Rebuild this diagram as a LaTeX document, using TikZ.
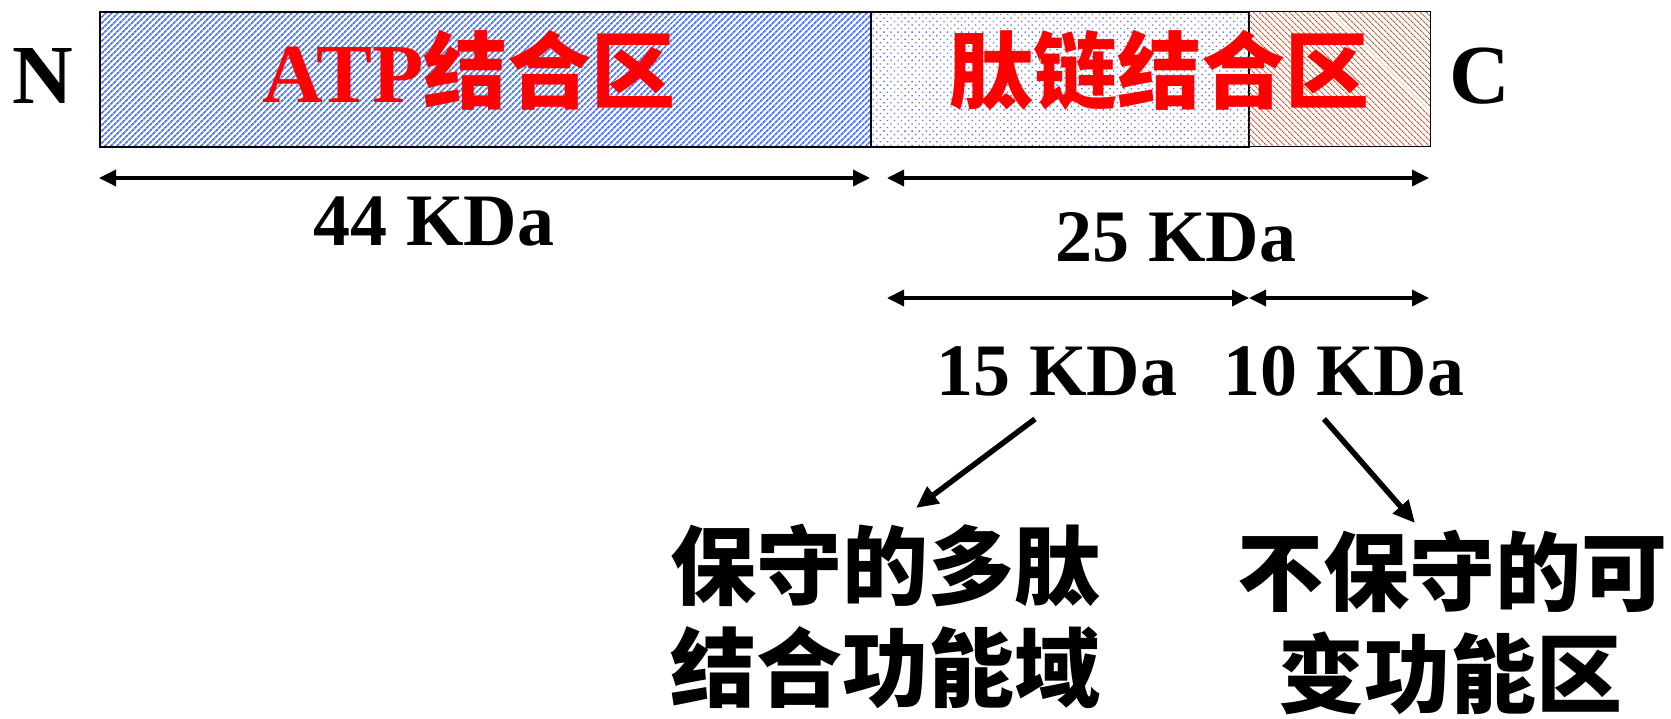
\documentclass[tikz,border=0pt]{standalone}
\usepackage{fontspec}
\setmainfont{Liberation Serif}
\newfontfamily\cjk{Noto Sans CJK SC}
\usetikzlibrary{patterns.meta,arrows.meta}
\definecolor{atpblue}{RGB}{80,120,255}
\definecolor{dotblue}{RGB}{95,115,235}
\definecolor{brn}{RGB}{190,95,55}
\definecolor{rd}{RGB}{255,0,0}
\begin{document}
\begin{tikzpicture}[x=1pt,y=-1pt,
  seg/.style={draw=black, line width=1.5pt, inner sep=0pt, anchor=north west, minimum height=135pt},
  dim/.style={line width=3.5pt, {Triangle[length=17pt,width=16pt]}-{Triangle[length=17pt,width=16pt]}},
  ptr/.style={line width=5.5pt, -{Triangle[length=22pt,width=20pt]}},
  term/.style={font=\fontsize{84}{84}\selectfont\bfseries, inner sep=0pt, anchor=base},
  redlbl/.style={font=\fontsize{84}{84}\selectfont\bfseries, text=rd, inner sep=0pt, anchor=base},
  kda/.style={font=\fontsize{74}{74}\selectfont\bfseries, inner sep=0pt, anchor=base},
  cjklbl/.style={font=\fontsize{86}{86}\selectfont\cjk\bfseries, inner sep=0pt, anchor=center}
]
\useasboundingbox (0,0) rectangle (1671,718);
\fill[white] (0,0) rectangle (1671,718);
% bar segments
\node[seg, minimum width=771pt, pattern={Lines[angle=45,distance=4pt,line width=1.8pt]}, pattern color=atpblue] (atp) at (99,11) {};
\node[seg, minimum width=378pt, pattern={Dots[distance=5pt,radius=0.95pt,angle=45]}, pattern color=dotblue] (pep) at (870,11) {};
\node[seg, minimum width=182pt, pattern={Lines[angle=-45,distance=4pt,line width=1.2pt]}, pattern color=brn] (var) at (1248,11) {};
% terminal labels
\node[term] (N) at (43,103) {N};
\node[term] (C) at (1480,103) {C};
% region labels
\node[redlbl] (atpt) at (469,102) {ATP{\cjk 结合区}};
\node[redlbl] (pept) at (1159,102) {{\cjk 肽链结合区}};
% dimension coordinates
\coordinate (r1a) at (99,178);
\coordinate (r1b) at (870,178);
\coordinate (r1c) at (887,178);
\coordinate (r1d) at (1429,178);
\coordinate (r2a) at (887,298);
\coordinate (r2b) at (1249,298);
\coordinate (r2c) at (1429,298);
\draw[dim] (r1a) -- (r1b);
\draw[dim] (r1c) -- (r1d);
\draw[dim] (r2a) -- (r2b);
\draw[dim] (r2b) -- (r2c);
% size labels
\node[kda] (k44) at (434,245) {44 KDa};
\node[kda] (k25) at (1176,261) {25 KDa};
\node[kda] (k15) at (1057,395) {15 KDa};
\node[kda] (k10) at (1344,395) {10 KDa};
% bottom labels
\node[cjklbl] (l1) at (885,566) {保守的多肽};
\node[cjklbl] (l2) at (885,668) {结合功能域};
\node[cjklbl] (rr1) at (1452,571) {不保守的可};
\node[cjklbl] (rr2) at (1450,673) {变功能区};
% pointers
\coordinate (p1s) at (1035,419);
\coordinate (p1e) at (916,508);
\coordinate (p2s) at (1324,419);
\coordinate (p2e) at (1415,523);
\draw[ptr] (p1s) -- (p1e);
\draw[ptr] (p2s) -- (p2e);
\end{tikzpicture}
\end{document}
